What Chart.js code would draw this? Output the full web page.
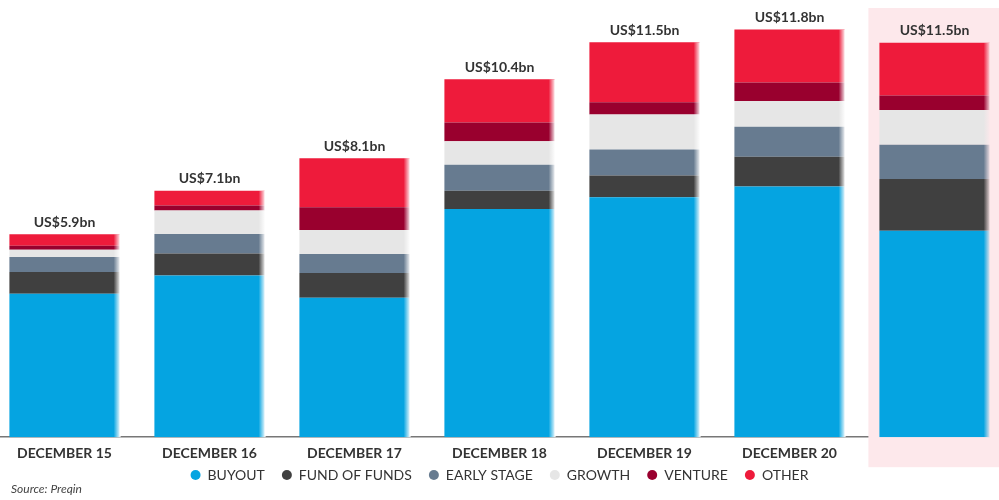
<!DOCTYPE html>
<html>
<head>
<meta charset="utf-8">
<script src="https://cdn.jsdelivr.net/npm/chart.js@4.4.0/dist/chart.umd.min.js"></script>
<style>
  html, body { margin: 0; padding: 0; background: #ffffff; overflow: hidden; }
  #wrap { position: absolute; left: -8px; top: 0; width: 1015px; height: 500px; }
</style>
</head>
<body>
<div id="wrap"><canvas id="c"></canvas></div>
<script>
// ---- data (US$bn) ----
const categories = ['DECEMBER 15', 'DECEMBER 16', 'DECEMBER 17', 'DECEMBER 18', 'DECEMBER 19', 'DECEMBER 20', 'JUNE 21'];
const buyout      = [4.15, 4.68, 4.03, 6.60, 6.94, 7.25, 5.97];
const fundOfFunds = [0.63, 0.63, 0.72, 0.53, 0.63, 0.86, 1.50];
const earlyStage  = [0.43, 0.57, 0.55, 0.75, 0.75, 0.87, 0.99];
const growth      = [0.21, 0.68, 0.69, 0.68, 1.01, 0.74, 1.00];
const venture     = [0.12, 0.14, 0.66, 0.54, 0.36, 0.54, 0.42];
const other       = [0.33, 0.43, 1.42, 1.25, 1.73, 1.53, 1.53];
const totalLabels = ['US$5.9bn', 'US$7.1bn', 'US$8.1bn', 'US$10.4bn', 'US$11.5bn', 'US$11.8bn', 'US$11.5bn'];
const highlightIndex = 6;
const sourceText = 'Source: Preqin';

const FONT = 'Lato, "Open Sans", sans-serif';
const PINK = 'rgb(253,232,235)';

const highlightPlugin = {
  id: 'highlight',
  beforeDatasetsDraw(chart) {
    const ctx = chart.ctx;
    const meta = chart.getDatasetMeta(0);
    const bar = meta.data[highlightIndex];
    if (!bar) return;
    const left = bar.x - bar.width / 2 - 11;
    const base = chart.scales.y.getPixelForValue(0);
    ctx.save();
    ctx.fillStyle = PINK;
    ctx.fillRect(left, 8, chart.width - left, base + 30 - 8);
    ctx.restore();
  }
};

const edgePlugin = {
  id: 'edges',
  afterDatasetsDraw(chart) {
    const ctx = chart.ctx;
    const n = chart.data.datasets.length;
    const first = chart.getDatasetMeta(0);
    const last = chart.getDatasetMeta(n - 1);
    const base = chart.scales.y.getPixelForValue(0);
    first.data.forEach((bar, i) => {
      const top = last.data[i].y;
      const right = bar.x + bar.width / 2;
      const bg = i === highlightIndex ? [253, 232, 235] : [255, 255, 255];
      const g = ctx.createLinearGradient(right - 6, 0, right + 1, 0);
      g.addColorStop(0, `rgba(${bg[0]},${bg[1]},${bg[2]},0)`);
      g.addColorStop(1, `rgba(${bg[0]},${bg[1]},${bg[2]},1)`);
      ctx.save();
      ctx.fillStyle = g;
      ctx.fillRect(right - 6, top, 7, base - top);
      ctx.restore();
      // total label
      ctx.save();
      ctx.font = `bold 14px ${FONT}`;
      ctx.fillStyle = '#333333';
      ctx.textAlign = 'center';
      ctx.textBaseline = 'middle';
      ctx.fillText(totalLabels[i], bar.x, top - 12);
      ctx.restore();
    });
  },
  afterDraw(chart) {
    const ctx = chart.ctx;
    ctx.save();
    ctx.font = `italic 12px ${FONT}`;
    ctx.fillStyle = '#444444';
    ctx.textAlign = 'left';
    ctx.textBaseline = 'middle';
    ctx.fillText(sourceText, 19, 489);
    ctx.restore();
  }
};

const mk = (label, data, color) => ({
  label, data, backgroundColor: color, borderWidth: 0,
  categoryPercentage: 1.0, barPercentage: 0.76
});

new Chart(document.getElementById('c'), {
  type: 'bar',
  data: {
    labels: categories,
    datasets: [
      mk('BUYOUT', buyout, '#05a4e1'),
      mk('FUND OF FUNDS', fundOfFunds, '#404040'),
      mk('EARLY STAGE', earlyStage, '#677b90'),
      mk('GROWTH', growth, '#e6e6e6'),
      mk('VENTURE', venture, '#99002e'),
      mk('OTHER', other, '#ee1b3b')
    ]
  },
  options: {
    responsive: true,
    maintainAspectRatio: false,
    animation: false,
    layout: { padding: { top: 5, bottom: 8, left: 0, right: 0 } },
    scales: {
      x: {
        stacked: true,
        offset: true,
        grid: { display: false, drawTicks: false },
        border: { display: true, color: '#777777', width: 1.5 },
        ticks: { color: '#333333', font: { family: FONT, size: 14, weight: 'bold' }, padding: 8, maxRotation: 0 },
        afterFit(s) {
          s._computeLabelArea = () => undefined;
          s.height = s.height - 19;
        }
      },
      y: {
        stacked: true,
        display: false,
        min: 0,
        max: 12.5
      }
    },
    plugins: {
      legend: {
        position: 'bottom',
        labels: {
          usePointStyle: true,
          pointStyle: 'circle',
          boxHeight: 7.07,
          pointStyleWidth: 10,
          color: '#333333',
          font: { family: FONT, size: 14 },
          padding: 17
        }
      },
      tooltip: { enabled: false }
    }
  },
  plugins: [highlightPlugin, edgePlugin]
});
</script>
</body>
</html>
